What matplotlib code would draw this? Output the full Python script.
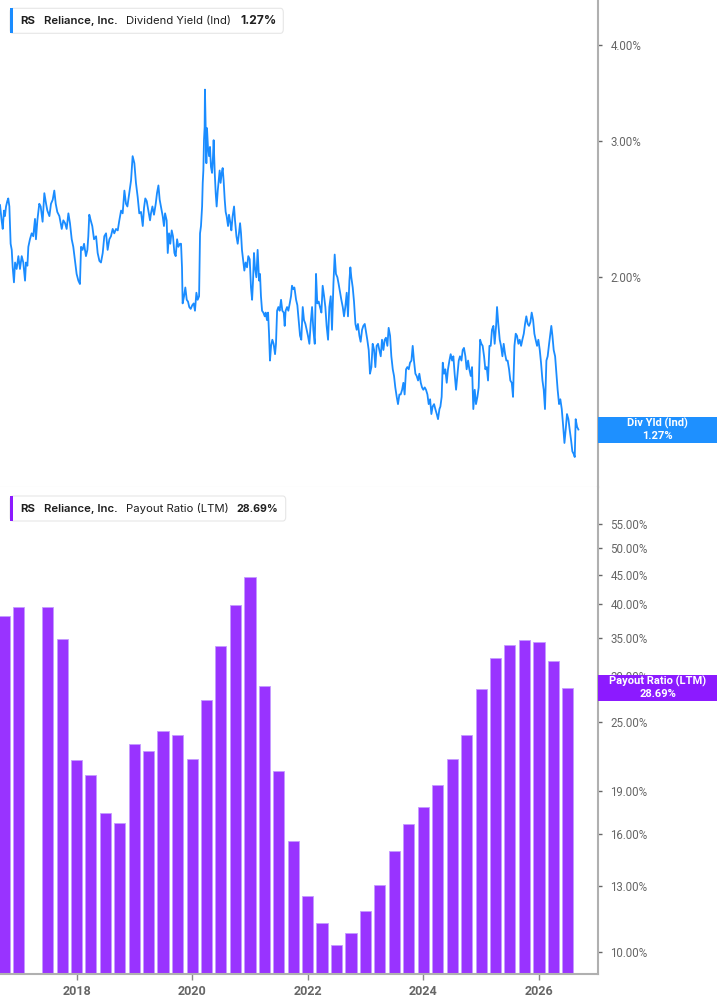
import numpy as np
import pandas as pd
import matplotlib
matplotlib.use('Agg')
import matplotlib.pyplot as plt
from matplotlib.patches import FancyBboxPatch, Rectangle
import matplotlib.ticker as mticker

# ---------------- data ----------------
# Dividend yield (Ind): observation day (days since 2016-01-01) and yield in hundredths of a percent
yield_obs_day = [246,256,263,271,277,284,292,298,305,313,320,326,334,341,351,362,372,383,393,404,410,419,425,435,446,456,467,473,482,494,503,515,526,537,545,558,568,579,589,598,608,621,636,646,657,667,678,688,699,709,720,730,741,751,758,768,777,789,798,804,810,819,829,840,853,863,874,884,895,905,916,926,937,947,958,968,979,990,1000,1011,1021,1032,1042,1051,1063,1074,1084,1095,1105,1116,1126,1137,1148,1156,1164,1173,1183,1194,1200,1209,
    1219,1230,1238,1247,1255,1263,1274,1282,1289,1299,1306,1314,1322,1331,1339,1348,1356,1365,1373,1383,1390,1396,1400,1409,1417,1426,1434,1442,1451,1461,1470,1478,1487,1495,1504,1510,1516,1523,1527,1531,1535,1539,1541,1546,1550,1554,1560,1567,1573,1579,1586,1592,1596,1603,1609,1615,1622,1628,1634,1640,1647,1653,1659,1666,1672,1678,1687,1693,1702,1708,1716,1725,1731,1740,1748,1756,1763,1769,1775,1782,1790,1798,1807,1815,1824,1832,1839,1845,1851,1857,1866,1874,1883,1889,1895,1902,1910,1919,1925,1933,1940,1946,1952,1959,1967,1975,1984,1990,1997,2005,2013,2022,2030,2039,2045,2051,2060,2068,2077,2085,2091,2100,2106,2108,2117,2125,2133,2142,2150,2159,2167,2176,2184,2192,2201,2209,2218,2226,2235,2243,2251,2260,2268,2277,2285,2294,2302,2310,2319,2327,2336,2344,2353,2361,2369,2378,2386,2395,2403,2412,2420,2428,2437,2445,2454,2460,2466,2475,2483,2492,2500,2508,2517,2525,2534,2542,2551,2559,2567,2576,2584,2593,2601,2610,2618,2626,2635,2643,2652,2660,2669,2677,2685,2694,2702,2711,2719,2728,2736,2744,2753,2761,2770,2778,2787,2795,2803,2812,2820,2829,2837,2846,2854,2862,2871,2879,2888,2896,2905,2913,2921,2930,2938,2947,2955,
    2964,2972,2980,2989,2997,3006,3014,3023,3029,3037,3044,3052,3060,3069,3077,3086,3094,3103,3111,3119,3128,3136,3145,3153,3162,3170,3178,3187,3195,3204,3212,3221,3229,3237,3246,3254,3263,3271,3280,3288,3296,3305,3313,3322,3330,3339,3347,3355,3364,3372,3381,3387,3395,3404,3412,3421,3429,3438,3446,3454,3463,3471,3480,3488,3497,3505,3513,3522,3530,3539,3547,3556,3564,3572,3581,3589,3598,3606,3615,3623,3631,3640,3648,3657,3665,3674,3682,3690,3699,3707,3716,3724,3730,3737,3745,3754,3762,3770,3779,3787,3796,3804,3813,3821,3829,3838,3846,3855,3863,3872,3878,3884,3893,3901]
yield_x100 = [248,237,231,244,240,247,251,253,247,221,217,206,197,209,205,213,205,213,209,198,209,207,219,224,228,226,238,224,237,249,247,236,257,249,244,240,249,252,259,249,243,240,231,237,235,231,242,235,224,219,210,202,198,196,219,217,221,213,217,226,241,237,233,224,226,215,210,209,215,226,228,217,224,226,231,228,231,230,237,244,242,259,249,247,257,267,287,281,265,254,242,243,233,246,253,251,244,237,242,247,241,249,257,263,252,247,240,233,242,237,215,228,221,230,226,215,213,224,219,221,221,206,185,189,194,187,186,183,182,184,185,181,191,187,189,228,233,247,265,275,301,313,350,307,281,312,295,287,295,278,273,287,301,273,257,247,259,267,275,265,273,277,267,252,243,240,233,241,235,230,240,247,237,226,221,228,235,228,217,211,204,209,206,213,211,194,187,198,215,206,200,217,198,202,189,181,180,178,180,176,180,169,156,163,166,164,159,164,181,183,181,187,181,180,173,181,183,181,185,189,195,193,194,193,187,184,176,168,166,183,176,174,171,168,164,174,183,171,164,202,185,186,183,180,195,189,183,173,166,183,189,171,196,214,202,200,196,191,187,183,178,183,191,178,198,206,200,194,186,174,171,174,168,165,171,173,174,170,166,161,
    150,153,164,161,153,163,164,161,158,166,161,166,167,163,172,168,158,152,149,144,140,137,141,141,143,146,141,152,153,152,155,156,163,156,150,149,147,150,146,144,143,144,143,141,137,139,133,136,137,135,133,131,135,136,140,155,150,152,146,152,156,159,156,158,150,143,149,156,158,156,161,162,158,152,156,152,149,153,135,143,137,140,144,166,164,163,158,152,153,147,163,163,171,173,164,173,183,174,166,163,158,164,159,156,156,152,147,146,140,163,169,168,164,166,163,166,169,174,178,174,173,175,180,176,169,166,163,166,161,155,147,143,135,156,158,164,169,173,168,161,158,150,143,137,139,135,129,122,127,133,131,127,123,119,118,117,131,128,127]

# Payout ratio (LTM), quarterly, percent (2017 Q1 has no bar)
payout_quarters = pd.date_range('2016-09-30', '2026-06-30', freq='QE')
payout_pct = [38.23, 39.53, np.nan, 39.53, 34.79, 21.51, 20.24, 17.40, 16.72, 22.93, 22.24, 24.15, 23.74, 21.58,
              27.29, 33.88, 39.90, 44.56, 28.88, 20.61, 15.56, 12.51, 11.22, 10.29, 10.79, 11.79, 13.04, 14.97,
              16.68, 17.82, 19.45, 21.60, 23.74, 28.55, 32.31, 34.01, 34.70, 34.46, 31.88, 28.69]

yield_ticks = [2, 3, 4]
payout_ticks = [10, 13, 16, 19, 25, 30, 35, 40, 45, 50, 55]
year_ticks = [2018, 2020, 2022, 2024, 2026]
last_yield = 1.27
last_payout = 28.69

# ---------------- figure ----------------
n = min(len(yield_obs_day), len(yield_x100))
epoch = pd.Timestamp('2016-01-01')
yield_dates = epoch + pd.to_timedelta(np.array(yield_obs_day[:n]), 'D')
yield_pct = np.array(yield_x100[:n]) / 100.0

W, H = 717, 1005
fig = plt.figure(figsize=(W/100, H/100), dpi=100)
ax1 = fig.add_axes([0, 1-487/H, 598/W, 487/H])
ax2 = fig.add_axes([0, 1-974/H, 598/W, 487/H])

def yr2date(y):
    return epoch + pd.Timedelta(days=(y-2016)*365.25)
xmin, xmax = yr2date(2016.673), yr2date(2027.02)

ax1.plot(yield_dates, yield_pct, color='#1a8cff', lw=1.3)
ax1.set_yscale('log'); ax1.set_ylim(1.070, 4.572)
ax2.bar(payout_quarters, payout_pct, width=70, color='#9933ff', edgecolor='#c59bff', linewidth=0.6)
ax2.set_yscale('log'); ax2.set_ylim(9.16, 63.8)
for ax in (ax1, ax2):
    ax.set_xlim(xmin, xmax)
    ax.yaxis.tick_right()
    ax.yaxis.set_minor_locator(mticker.NullLocator())
    ax.spines['top'].set_visible(False); ax.spines['left'].set_visible(False)
    ax.spines['right'].set_color('#b0b0b0'); ax.spines['right'].set_linewidth(1.5)
    ax.tick_params(axis='y', which='major', length=3, width=1, color='#666666', labelcolor='#666666', labelsize=8.3, pad=6)
ax1.spines['bottom'].set_color('#dddddd')
ax2.spines['bottom'].set_color('#b0b0b0'); ax2.spines['bottom'].set_linewidth(1.5)
ax1.set_xticks([])
ax1.set_yticks(yield_ticks); ax1.set_yticklabels([f'{v:.2f}%' for v in yield_ticks], family='Roboto')
ax2.set_yticks(payout_ticks); ax2.set_yticklabels([f'{v:.2f}%' for v in payout_ticks], family='Roboto')
ax2.set_xticks([pd.Timestamp(f'{y}-01-01') for y in year_ticks])
ax2.set_xticklabels([str(y) for y in year_ticks], family='Roboto', fontweight='bold')
ax2.tick_params(axis='x', length=4, width=1, color='#888888', labelcolor='#666666', labelsize=9, pad=4)

renderer = fig.canvas.get_renderer()

def P(x, y):
    return x/W, 1-y/H

def legend_box(y0, y1, x1, color, parts):
    fig.patches.append(FancyBboxPatch(P(10, y1), (x1-10)/W, (y1-y0)/H, boxstyle='round,pad=0,rounding_size=0.004',
                                      transform=fig.transFigure, facecolor='white', edgecolor='#e6e6e6', lw=0.8, zorder=5))
    fig.patches.append(Rectangle(P(10, y1), 3/W, (y1-y0)/H, transform=fig.transFigure, facecolor=color, edgecolor='none', zorder=6))
    yc = (y0+y1)/2
    for x0, x1t, s, w in parts:
        t = fig.text(x0/W, 1-yc/H, s, fontsize=9, fontweight=w, color='#1f1f1f', va='center', ha='left',
                     family=['Inter', 'DejaVu Sans'], zorder=7)
        bb = t.get_window_extent(renderer=renderer)
        t.set_fontsize(9*(x1t-x0)/bb.width)

legend_box(8.3, 33.3, 283.3, '#1a8cff', [(20, 35, 'RS', 'bold'), (44.3, 118.3, 'Reliance, Inc.', 'semibold'),
                                          (126, 231, 'Dividend Yield (Ind)', 'normal'), (240.7, 276.7, f'{last_yield:.2f}%', 'bold')])
legend_box(496, 521, 285.7, '#8c1aff', [(20, 35, 'RS', 'bold'), (44.3, 118.3, 'Reliance, Inc.', 'semibold'),
                                         (126, 229.3, 'Payout Ratio (LTM)', 'normal'), (236.7, 278.3, f'{last_payout:.2f}%', 'bold')])

def value_box(ax, v, color, l1, l2):
    yd = ax.transData.transform((0, v))[1]
    h = 26
    fig.patches.append(Rectangle((598/W, (yd-h/2)/H), 119/W, h/H, transform=fig.transFigure, facecolor=color, edgecolor='none', zorder=8))
    fig.text(657.5/W, (yd+5.7)/H, l1, fontsize=8.0, fontweight='bold', color='white', ha='center', va='center', family=['Roboto', 'DejaVu Sans'], zorder=9)
    fig.text(657.5/W, (yd-6.5)/H, l2, fontsize=8.0, fontweight='bold', color='white', ha='center', va='center', family=['Roboto', 'DejaVu Sans'], zorder=9)

value_box(ax1, last_yield, '#1e90ff', 'Div Yld (Ind)', f'{last_yield:.2f}%')
value_box(ax2, last_payout, '#8c1aff', 'Payout Ratio (LTM)', f'{last_payout:.2f}%')

fig.savefig('out.png', dpi=100)
